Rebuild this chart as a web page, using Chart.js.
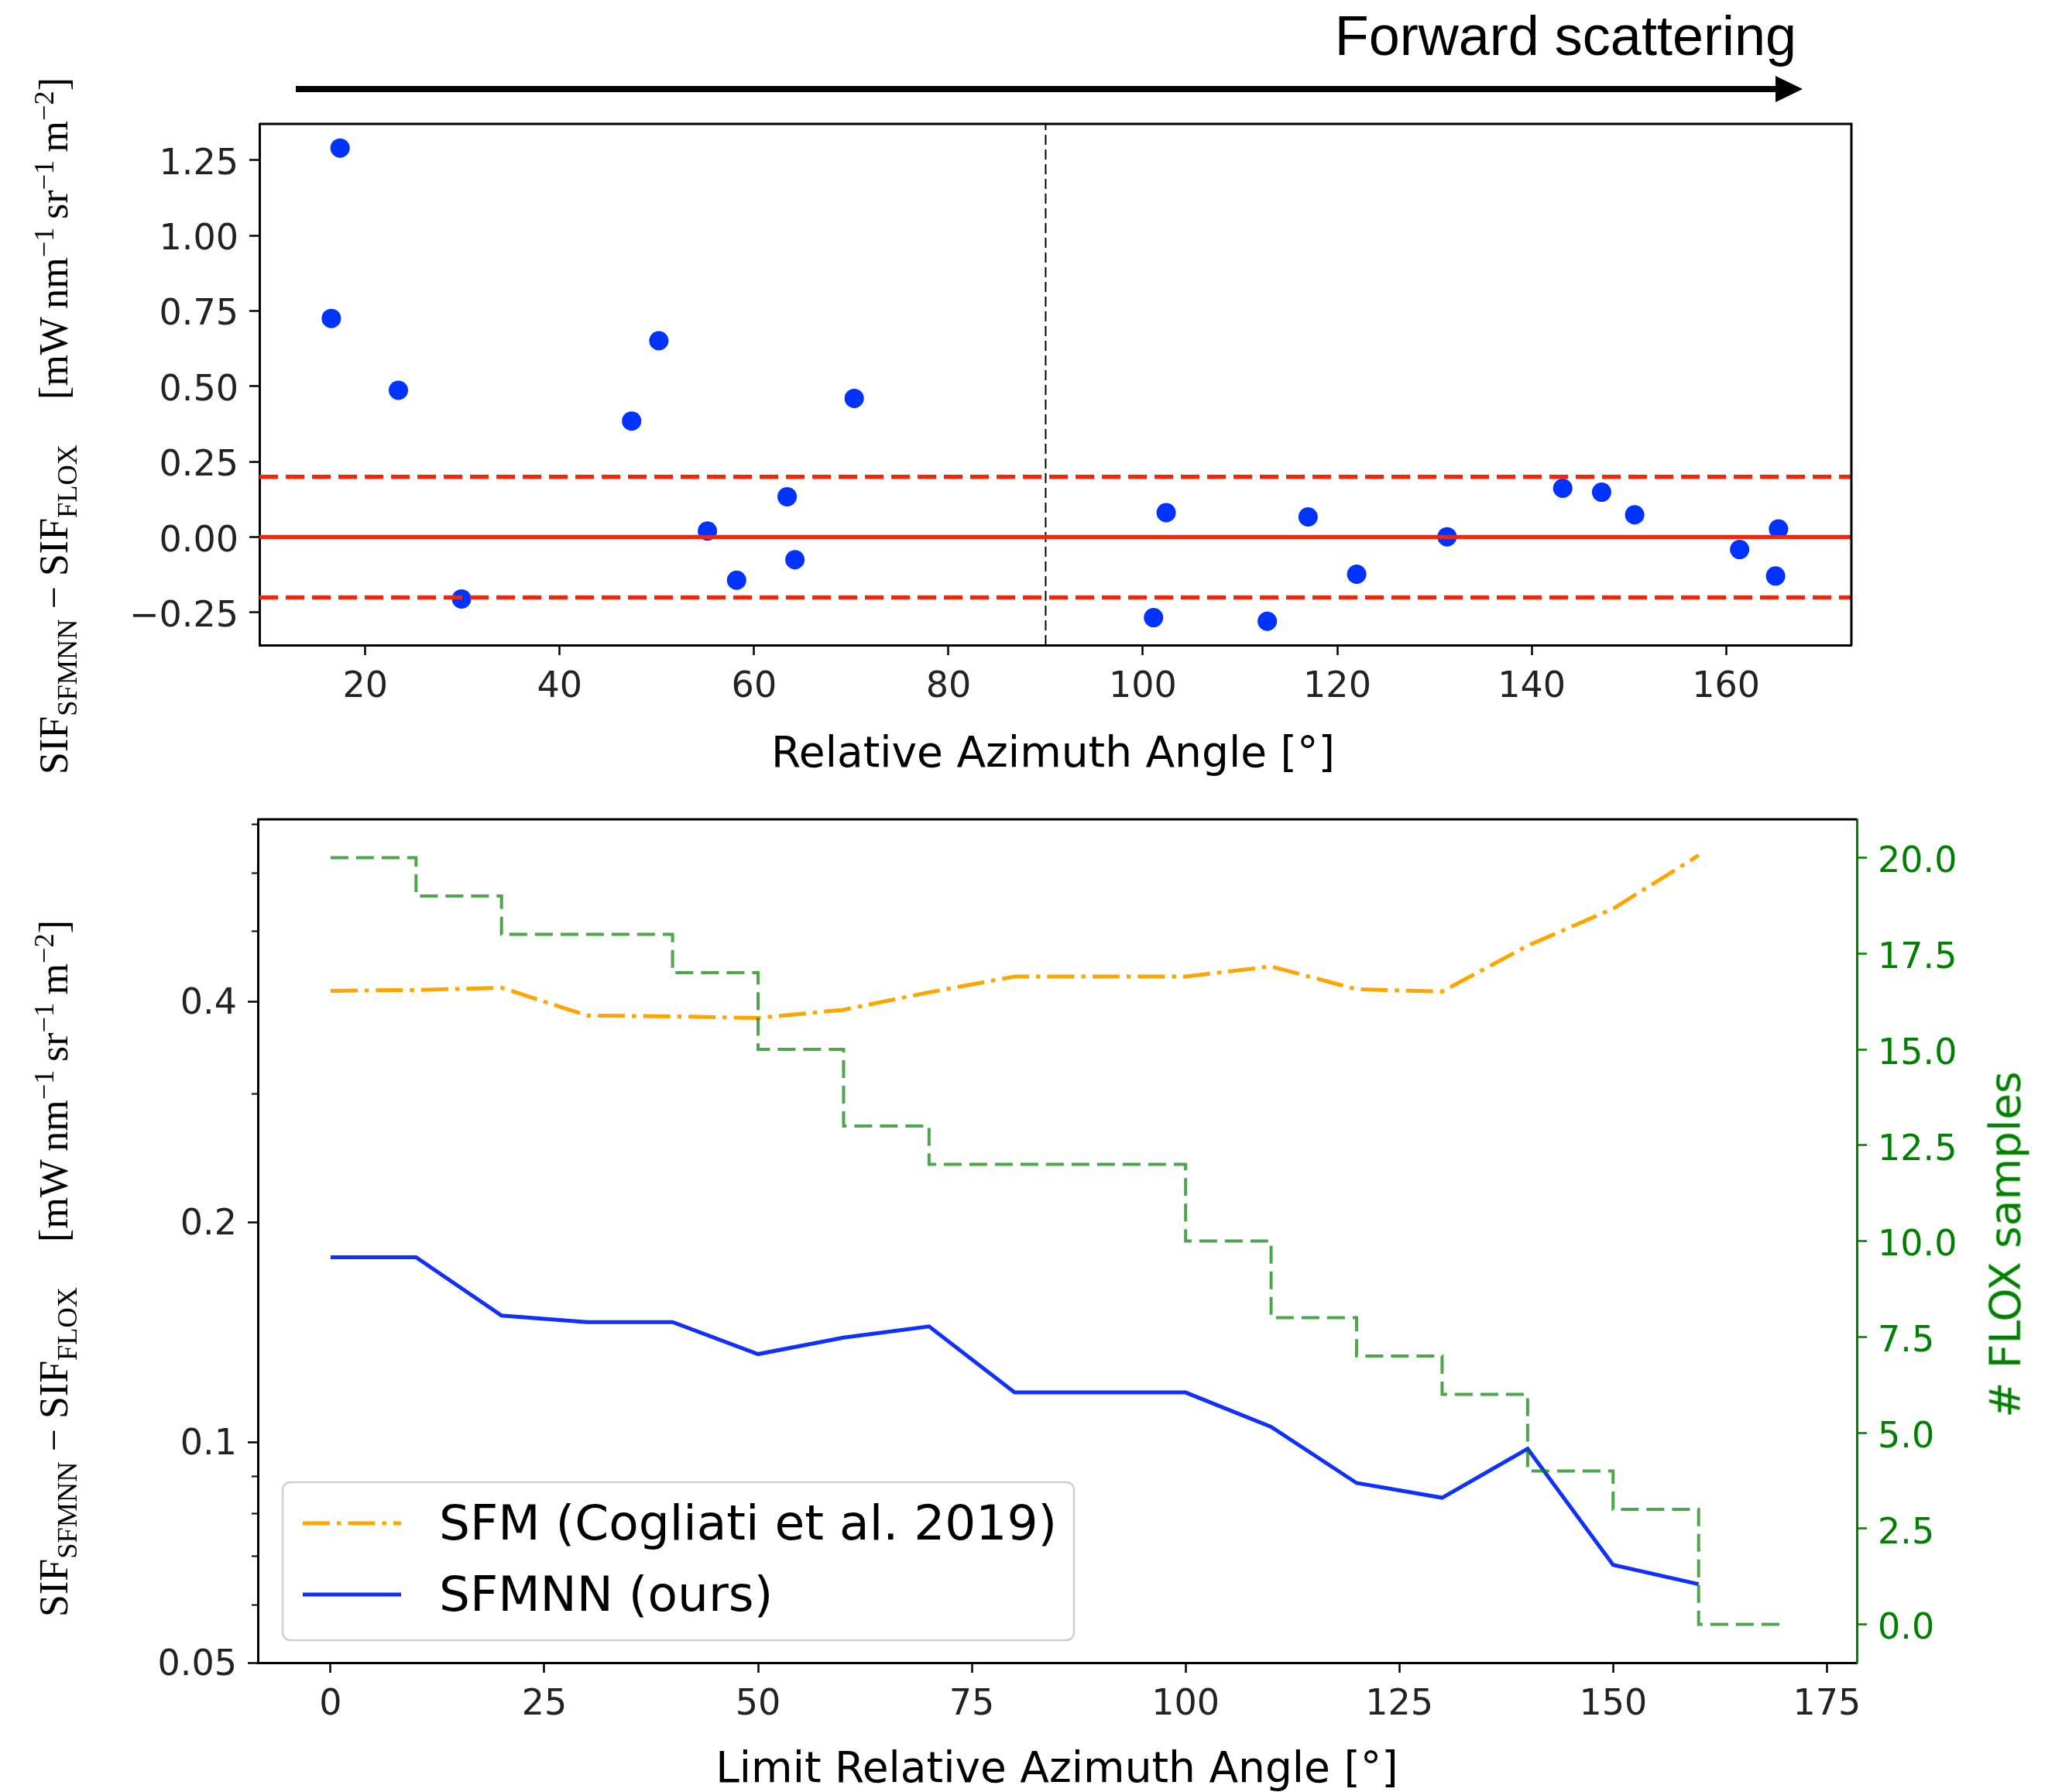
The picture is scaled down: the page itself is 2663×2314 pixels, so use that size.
<!DOCTYPE html>
<html>
<head>
<meta charset="utf-8">
<script src="https://cdn.jsdelivr.net/npm/chart.js@4.4.0/dist/chart.umd.min.js"></script>
<style>
  html, body { margin: 0; padding: 0; background: #fff; }
  #page { position: relative; width: 2663px; height: 2314px; overflow: hidden; }
  canvas { position: absolute; left: 0; }
  .lab { position: absolute; white-space: nowrap; line-height: 1; transform: translate(-50%, -50%); }
  .rot { transform: translate(-50%, -50%) rotate(-90deg); }
  .sans { font-family: "DejaVu Sans"; font-size: 55px; color: #000; }
  .serif { font-family: "Liberation Serif"; font-size: 52px; color: #000; }
  .serif sub, .serif sup { font-size: 0.7em; }
</style>
</head>
<body>
<div id="page">
  <canvas id="topChart" width="2663" height="1000" style="top:0"></canvas>
  <canvas id="bottomChart" width="2663" height="1314" style="top:1000px"></canvas>

  <div class="lab rot serif" style="left:72px; top:550px">SIF<sub>SFMNN</sub> − SIF<sub>FLOX</sub><span style="margin-left:58px">[mW&thinsp;nm<sup>−1</sup>&thinsp;sr<sup>−1</sup>&thinsp;m<sup>−2</sup>]</span></div>
  <div class="lab rot serif" style="left:72px; top:1638px">SIF<sub>SFMNN</sub> − SIF<sub>FLOX</sub><span style="margin-left:58px">[mW&thinsp;nm<sup>−1</sup>&thinsp;sr<sup>−1</sup>&thinsp;m<sup>−2</sup>]</span></div>
  <div class="lab sans" style="left:1360px; top:971px">Relative Azimuth Angle [°]</div>
  <div class="lab sans" style="left:1365px; top:2282px">Limit Relative Azimuth Angle [°]</div>
  <div class="lab rot sans" style="left:2590px; top:1607px; color:#008000"># FLOX samples</div>
</div>

<script>
// --- top panel: per-sample differences vs relative azimuth angle
const scatterAngles = [16.5, 17.4, 23.4, 29.9, 47.4, 50.2, 55.2, 58.2, 63.4, 64.2, 70.3,
  101.1, 102.4, 112.8, 117.0, 122.0, 131.3, 143.2, 147.2, 150.6, 161.4, 165.4, 165.1];
const scatterDiffs = [0.725, 1.29, 0.487, -0.205, 0.385, 0.651, 0.020, -0.143, 0.134, -0.075, 0.460,
  -0.267, 0.081, -0.279, 0.067, -0.123, 0.001, 0.162, 0.149, 0.074, -0.041, 0.027, -0.129];
const refLevels = [0, 0.2, -0.2];
const splitAngle = 90;
const topXRange = [9.1, 172.9];
const topYRange = [-0.358, 1.37];
const topXTicks = [20, 40, 60, 80, 100, 120, 140, 160];
const topYTicks = [-0.25, 0, 0.25, 0.5, 0.75, 1.0, 1.25];

// --- bottom panel: mean difference vs limit angle
const limitAngles = [0, 10, 20, 30, 40, 50, 60, 70, 80, 90, 100, 110, 120, 130, 140, 150, 160];
const sfmValues = [0.414, 0.415, 0.418, 0.383, 0.382, 0.380, 0.390, 0.412, 0.433, 0.433, 0.433,
  0.447, 0.416, 0.413, 0.477, 0.536, 0.634];
const sfmnnValues = [0.179, 0.179, 0.149, 0.146, 0.146, 0.132, 0.139, 0.144, 0.117, 0.117, 0.117,
  0.105, 0.088, 0.084, 0.098, 0.068, 0.064];
const countAngles = [0, 10, 20, 30, 40, 50, 60, 70, 80, 90, 100, 110, 120, 130, 140, 150, 160, 170];
const floxCounts = [20, 19, 18, 18, 17, 15, 13, 12, 12, 12, 10, 8, 7, 6, 4, 3, 0, 0];
const bottomXRange = [-8.5, 178.5];
const logRange = [0.05, 0.71];
const countRange = [-1, 21];
const bottomXTicks = [0, 25, 50, 75, 100, 125, 150, 175];
const logMajorTicks = [0.05, 0.1, 0.2, 0.4];
const logMinorTicks = [0.06, 0.07, 0.08, 0.09, 0.3, 0.5, 0.6, 0.7];
const countTicks = [0, 2.5, 5, 7.5, 10, 12.5, 15, 17.5, 20];

const TICK_FONT = { family: "DejaVu Sans", size: 46 };
const RED = "#ff2200";
const BLUE = "#0033ff";

function fixedTicks(values) {
  return scale => { scale.ticks = values.map(v => ({ value: v })); };
}

function axis(extra) {
  return Object.assign({
    grid: { display: true, drawOnChartArea: false, drawTicks: true, tickLength: 13, tickColor: "#000", tickWidth: 2.5 },
    border: { display: true, color: "#000", width: 3 },
    ticks: { font: TICK_FONT, color: "#222", padding: 14, autoSkip: false, maxRotation: 0 }
  }, extra);
}

// black frame edges not covered by an axis
const framePlugin = {
  id: "frame",
  afterDatasetsDraw(chart, args, opts) {
    const { ctx, chartArea: a } = chart;
    ctx.save();
    ctx.strokeStyle = "#000";
    ctx.lineWidth = 3;
    ctx.beginPath();
    ctx.moveTo(a.left, a.top);
    ctx.lineTo(a.right, a.top);
    if (opts.right) ctx.lineTo(a.right, a.bottom);
    ctx.stroke();
    ctx.restore();
  }
};

const arrowPlugin = {
  id: "arrow",
  afterDraw(chart) {
    const ctx = chart.ctx;
    ctx.save();
    ctx.fillStyle = "#000";
    ctx.fillRect(382, 111, 1911, 8);
    ctx.beginPath();
    ctx.moveTo(2293, 98);
    ctx.lineTo(2328, 115);
    ctx.lineTo(2293, 132);
    ctx.closePath();
    ctx.fill();
    ctx.font = '72px "Liberation Sans"';
    ctx.textAlign = "right";
    ctx.textBaseline = "alphabetic";
    ctx.fillText("Forward scattering", 2320, 71);
    ctx.restore();
  }
};

new Chart(document.getElementById("topChart"), {
  type: "scatter",
  data: {
    datasets: [
      {
        label: "samples",
        data: scatterAngles.map((x, i) => ({ x, y: scatterDiffs[i] })),
        backgroundColor: BLUE,
        borderWidth: 0,
        pointRadius: 12.5,
        order: 3
      },
      ...refLevels.map(lvl => ({
        label: "ref " + lvl,
        data: [{ x: topXRange[0], y: lvl }, { x: topXRange[1], y: lvl }],
        showLine: true,
        borderColor: RED,
        borderWidth: 5.5,
        borderDash: lvl === 0 ? [] : [24, 10],
        pointRadius: 0,
        order: 1
      })),
      {
        label: "split",
        data: [{ x: splitAngle, y: topYRange[0] }, { x: splitAngle, y: topYRange[1] }],
        showLine: true,
        borderColor: "#000",
        borderWidth: 2,
        borderDash: [13, 6],
        pointRadius: 0,
        order: 2
      }
    ]
  },
  options: {
    responsive: false,
    animation: false,
    devicePixelRatio: 1,
    layout: { padding: { top: 160, left: 0, right: 272, bottom: 0 } },
    plugins: { legend: { display: false }, tooltip: { enabled: false }, frame: { right: true } },
    scales: {
      x: axis({
        type: "linear", min: topXRange[0], max: topXRange[1],
        afterBuildTicks: fixedTicks(topXTicks),
        afterFit: s => { s.height = 167; }
      }),
      y: axis({
        type: "linear", min: topYRange[0], max: topYRange[1],
        afterBuildTicks: fixedTicks(topYTicks),
        afterFit: s => { s.width = 335; },
        ticks: { font: TICK_FONT, color: "#222", padding: 14, autoSkip: false, labelOffset: 6,
          callback: v => v.toFixed(2).replace("-", "−") }
      })
    }
  },
  plugins: [framePlugin, arrowPlugin]
});

// minor ticks on the log axis
const minorTickPlugin = {
  id: "minorTicks",
  afterDraw(chart) {
    const { ctx, chartArea: a } = chart;
    const y = chart.scales.y;
    ctx.save();
    ctx.strokeStyle = "#000";
    ctx.lineWidth = 2;
    logMinorTicks.forEach(v => {
      const py = Math.round(y.getPixelForValue(v)) + 0.5;
      ctx.beginPath();
      ctx.moveTo(a.left - 8, py);
      ctx.lineTo(a.left, py);
      ctx.stroke();
    });
    ctx.restore();
  }
};

const boxLegendPlugin = {
  id: "boxLegend",
  afterDraw(chart) {
    const { ctx, chartArea: a } = chart;
    const w = 1022, h = 204, r = 10;
    const x0 = a.left + 32, y0 = a.bottom - 29 - h;
    ctx.save();
    ctx.beginPath();
    ctx.roundRect(x0, y0, w, h, r);
    ctx.fillStyle = "rgba(255,255,255,0.8)";
    ctx.fill();
    ctx.strokeStyle = "#d0d0d0";
    ctx.lineWidth = 2.5;
    ctx.stroke();
    const items = chart.data.datasets.filter(d => d.inLegend);
    items.forEach((ds, i) => {
      const cy = y0 + 53 + i * 92;
      ctx.strokeStyle = ds.borderColor;
      ctx.lineWidth = ds.borderWidth;
      ctx.setLineDash(ds.borderDash || []);
      ctx.beginPath();
      ctx.moveTo(x0 + 26, cy);
      ctx.lineTo(x0 + 153, cy);
      ctx.stroke();
      ctx.setLineDash([]);
      ctx.fillStyle = "#000";
      ctx.font = '63px "DejaVu Sans"';
      ctx.textAlign = "left";
      ctx.textBaseline = "middle";
      ctx.fillText(ds.label, x0 + 202, cy + 5);
    });
    ctx.restore();
  }
};

new Chart(document.getElementById("bottomChart"), {
  type: "line",
  data: {
    datasets: [
      {
        label: "SFM (Cogliati et al. 2019)",
        inLegend: true,
        data: limitAngles.map((x, i) => ({ x, y: sfmValues[i] })),
        borderColor: "#ffa500",
        borderWidth: 5,
        borderDash: [35, 9, 5.5, 9],
        pointRadius: 0,
        yAxisID: "y",
        order: 3
      },
      {
        label: "SFMNN (ours)",
        inLegend: true,
        data: limitAngles.map((x, i) => ({ x, y: sfmnnValues[i] })),
        borderColor: "#1030ff",
        borderWidth: 5,
        pointRadius: 0,
        yAxisID: "y",
        order: 2
      },
      {
        label: "# FLOX samples",
        data: countAngles.map((x, i) => ({ x, y: floxCounts[i] })),
        borderColor: "rgba(0,128,0,0.7)",
        borderWidth: 4,
        borderDash: [23, 10],
        stepped: true,
        pointRadius: 0,
        yAxisID: "y2",
        order: 1
      }
    ]
  },
  options: {
    responsive: false,
    animation: false,
    devicePixelRatio: 1,
    layout: { padding: { top: 58, left: 0, right: 0, bottom: 0 } },
    plugins: { legend: { display: false }, tooltip: { enabled: false }, frame: { right: false } },
    scales: {
      x: axis({
        type: "linear", min: bottomXRange[0], max: bottomXRange[1],
        afterBuildTicks: fixedTicks(bottomXTicks),
        afterFit: s => { s.height = 167; }
      }),
      y: axis({
        type: "logarithmic", position: "left", min: logRange[0], max: logRange[1],
        afterBuildTicks: fixedTicks(logMajorTicks),
        afterFit: s => { s.width = 333; },
        ticks: { font: TICK_FONT, color: "#222", padding: 14, autoSkip: false, labelOffset: 4, callback: v => String(v) }
      }),
      y2: axis({
        type: "linear", position: "right", min: countRange[0], max: countRange[1],
        afterBuildTicks: fixedTicks(countTicks),
        afterFit: s => { s.width = 265; },
        grid: { display: true, drawOnChartArea: false, drawTicks: true, tickLength: 13, tickColor: "#008000", tickWidth: 2.5 },
        border: { display: true, color: "#008000", width: 3 },
        ticks: { font: TICK_FONT, color: "#008000", padding: 14, autoSkip: false, labelOffset: 7, callback: v => v.toFixed(1) }
      })
    }
  },
  plugins: [framePlugin, minorTickPlugin, boxLegendPlugin]
});
</script>
</body>
</html>
